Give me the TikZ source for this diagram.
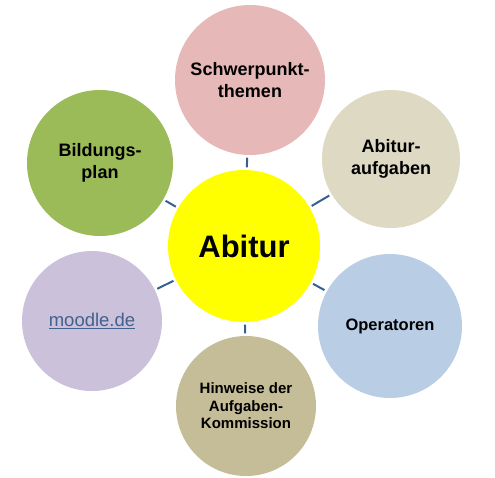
\documentclass[tikz,border=0pt]{standalone}
\usepackage{fontspec}
\setmainfont{Liberation Sans}
\definecolor{hubYellow}{HTML}{FFFF00}
\definecolor{themenPink}{HTML}{E6B9B8}
\definecolor{aufgabenBeige}{HTML}{DDD9C3}
\definecolor{operatorenBlue}{HTML}{B9CDE5}
\definecolor{hinweiseTan}{HTML}{C4BD97}
\definecolor{moodleLilac}{HTML}{CCC1DA}
\definecolor{planGreen}{HTML}{9BBB59}
\definecolor{spokeBlue}{HTML}{376092}
\definecolor{linkBlue}{HTML}{42618F}
\newcommand{\bigLabel}{\fontsize{31}{36}\bfseries\selectfont}
\newcommand{\midLabel}{\fontsize{18}{22}\bfseries\selectfont}
\newcommand{\opLabel}{\fontsize{16.5}{20}\bfseries\selectfont}
\newcommand{\smallLabel}{\fontsize{15}{17.5}\bfseries\selectfont}
\newcommand{\linkLabel}{\fontsize{18.5}{22}\selectfont\color{linkBlue}}
%% A coloured disc with its text: name, x, y, size, colour, font, text.
\newcommand{\topicCircle}[7]{%%
  \node[circleStyle,fill=#5,minimum size=#4,font=#6] (#1) at (#2,#3) {#7};
}
\begin{document}
\begin{tikzpicture}[x=1pt,y=-1pt,%%
  circleStyle/.style={circle,inner sep=0pt,align=center},%%
  lineStyle/.style={-,spokeBlue,line width=2pt,shorten >=2.5pt,shorten <=2.5pt}%%
]
%%
\useasboundingbox (0,0) rectangle (495,477);
%%
%% The hub.
\topicCircle{abitur}{244}{246}{152pt}{hubYellow}{\bigLabel}{Abitur}
%%
%% The topics round it.
\topicCircle{themen}{250}{80}{150pt}{themenPink}{\midLabel}{Schwerpunkt-\\themen}
\topicCircle{aufgaben}{391}{159}{138pt}{aufgabenBeige}{\midLabel}{Abitur-\\aufgaben}
\topicCircle{operatoren}{390}{326}{144pt}{operatorenBlue}{\opLabel}{Operatoren}
\topicCircle{hinweise}{246}{406}{140pt}{hinweiseTan}{\smallLabel}{Hinweise der\\Aufgaben-\\Kommission}
\topicCircle{moodle}{92}{321}{140pt}{moodleLilac}{\linkLabel}{\underline{moodle.de}}
\topicCircle{plan}{100}{163}{146pt}{planGreen}{\midLabel}{Bildungs-\\plan}
%%
%% The spokes.
\foreach \outer in {themen,aufgaben,operatoren,hinweise,moodle,plan}
  \draw[lineStyle] (abitur) -- (\outer);
\end{tikzpicture}
\end{document}
